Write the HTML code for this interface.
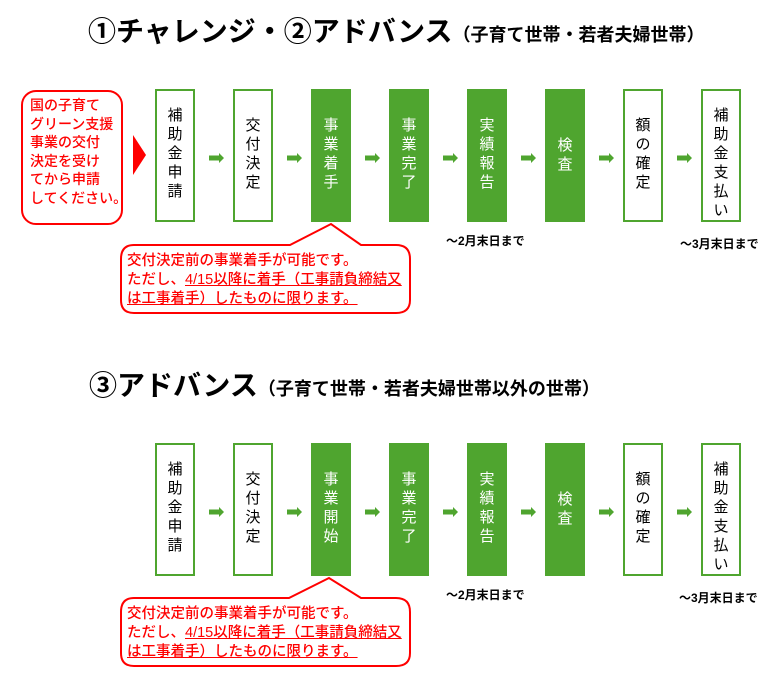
<!DOCTYPE html>
<html><head><meta charset="utf-8"><style>
body{margin:0;background:#fff;width:781px;height:679px;overflow:hidden;position:relative;font-family:"Liberation Sans","Noto Sans CJK JP",sans-serif}
.t{position:absolute;white-space:nowrap}
.box{position:absolute;width:36px;height:129px;border:2.5px solid #4fa52f;background:#fff;box-sizing:content-box}
.box.f{background:#4fa52f;color:#fff}
.box div{position:absolute;left:0;right:0;text-align:center;font-size:15px;line-height:19px}
.red{color:#f00}
.u{text-decoration:underline}
.lbl{font-size:12px;font-weight:bold;color:#000}
</style></head><body>
<svg width="781" height="679" style="position:absolute;left:0;top:0">
<g fill="#4fa52f">
<path d="M209 155.5h10v-2.5l5 5-5 5v-2.5h-10z"/>
<path d="M287 155.5h10v-2.5l5 5-5 5v-2.5h-10z"/>
<path d="M365 155.5h10v-2.5l5 5-5 5v-2.5h-10z"/>
<path d="M443 155.5h10v-2.5l5 5-5 5v-2.5h-10z"/>
<path d="M521 155.5h10v-2.5l5 5-5 5v-2.5h-10z"/>
<path d="M599 155.5h10v-2.5l5 5-5 5v-2.5h-10z"/>
<path d="M677 155.5h10v-2.5l5 5-5 5v-2.5h-10z"/>
<path d="M209 509.5h10v-2.5l5 5-5 5v-2.5h-10z"/>
<path d="M287 509.5h10v-2.5l5 5-5 5v-2.5h-10z"/>
<path d="M365 509.5h10v-2.5l5 5-5 5v-2.5h-10z"/>
<path d="M443 509.5h10v-2.5l5 5-5 5v-2.5h-10z"/>
<path d="M521 509.5h10v-2.5l5 5-5 5v-2.5h-10z"/>
<path d="M599 509.5h10v-2.5l5 5-5 5v-2.5h-10z"/>
<path d="M677 509.5h10v-2.5l5 5-5 5v-2.5h-10z"/>
</g>
<rect x="22" y="91" width="100" height="133" rx="14" fill="#fff" stroke="#f00" stroke-width="2"/>
<path d="M133 135L146 155L133 175z" fill="#f00"/>
<path d="M134 245H290L331 224L361 245H396Q410 245 410 259V300Q410 313 396 313H134Q121 313 121 300V259Q121 245 134 245z" fill="#fff" stroke="#f00" stroke-width="2"/>
<path d="M134 598H289L329 578L361 598H396Q410 598 410 612V653Q410 666 396 666H134Q121 666 121 653V612Q121 598 134 598z" fill="#fff" stroke="#f00" stroke-width="2"/>
</svg>
<div class="t" style="left:88px;top:14px;font-size:28px;font-weight:bold;line-height:36px">①チャレンジ・②アドバンス<span style="font-size:18px">（子育て世帯・若者夫婦世帯）</span></div>
<div class="t" style="left:89px;top:368px;font-size:28px;font-weight:bold;line-height:36px">③アドバンス<span style="font-size:18px">（子育て世帯・若者夫婦世帯以外の世帯）</span></div>

<div class="t red" style="left:30px;top:96px;font-size:14px;line-height:18.5px;font-weight:500">国の子育て<br>グリーン支援<br>事業の交付<br>決定を受け<br>てから申請<br>してください。</div>

<div class="t red" style="left:127px;top:252px;font-size:14.5px;line-height:19px;font-weight:500">交付決定前の事業着手が可能です。<br>ただし、<span class="u">4/15以降に着手（工事請負締結又</span><br><span class="u">は工事着手）したものに限ります。</span></div>
<div class="t red" style="left:127px;top:605px;font-size:14.5px;line-height:19px;font-weight:500">交付決定前の事業着手が可能です。<br>ただし、<span class="u">4/15以降に着手（工事請負締結又</span><br><span class="u">は工事着手）したものに限ります。</span></div>

<div class="box" style="left:155px;top:89px"><div style="top:15px">補<br>助<br>金<br>申<br>請</div></div>
<div class="box" style="left:233px;top:89px"><div style="top:25px">交<br>付<br>決<br>定</div></div>
<div class="box f" style="left:311px;top:89px"><div style="top:25px">事<br>業<br>着<br>手</div></div>
<div class="box f" style="left:389px;top:89px"><div style="top:25px">事<br>業<br>完<br>了</div></div>
<div class="box f" style="left:467px;top:89px"><div style="top:25px">実<br>績<br>報<br>告</div></div>
<div class="box f" style="left:545px;top:89px"><div style="top:45px">検<br>査</div></div>
<div class="box" style="left:623px;top:89px"><div style="top:25px">額<br>の<br>確<br>定</div></div>
<div class="box" style="left:701px;top:89px"><div style="top:15px">補<br>助<br>金<br>支<br>払<br>い</div></div>

<div class="box" style="left:155px;top:443px"><div style="top:15px">補<br>助<br>金<br>申<br>請</div></div>
<div class="box" style="left:233px;top:443px"><div style="top:25px">交<br>付<br>決<br>定</div></div>
<div class="box f" style="left:311px;top:443px"><div style="top:25px">事<br>業<br>開<br>始</div></div>
<div class="box f" style="left:389px;top:443px"><div style="top:25px">事<br>業<br>完<br>了</div></div>
<div class="box f" style="left:467px;top:443px"><div style="top:25px">実<br>績<br>報<br>告</div></div>
<div class="box f" style="left:545px;top:443px"><div style="top:45px">検<br>査</div></div>
<div class="box" style="left:623px;top:443px"><div style="top:25px">額<br>の<br>確<br>定</div></div>
<div class="box" style="left:701px;top:443px"><div style="top:15px">補<br>助<br>金<br>支<br>払<br>い</div></div>

<div class="t lbl" style="left:446px;top:232px">～2月末日まで</div>
<div class="t lbl" style="left:680px;top:235px">～3月末日まで</div>
<div class="t lbl" style="left:446px;top:586px">～2月末日まで</div>
<div class="t lbl" style="left:679px;top:589px">～3月末日まで</div>
</body></html>
